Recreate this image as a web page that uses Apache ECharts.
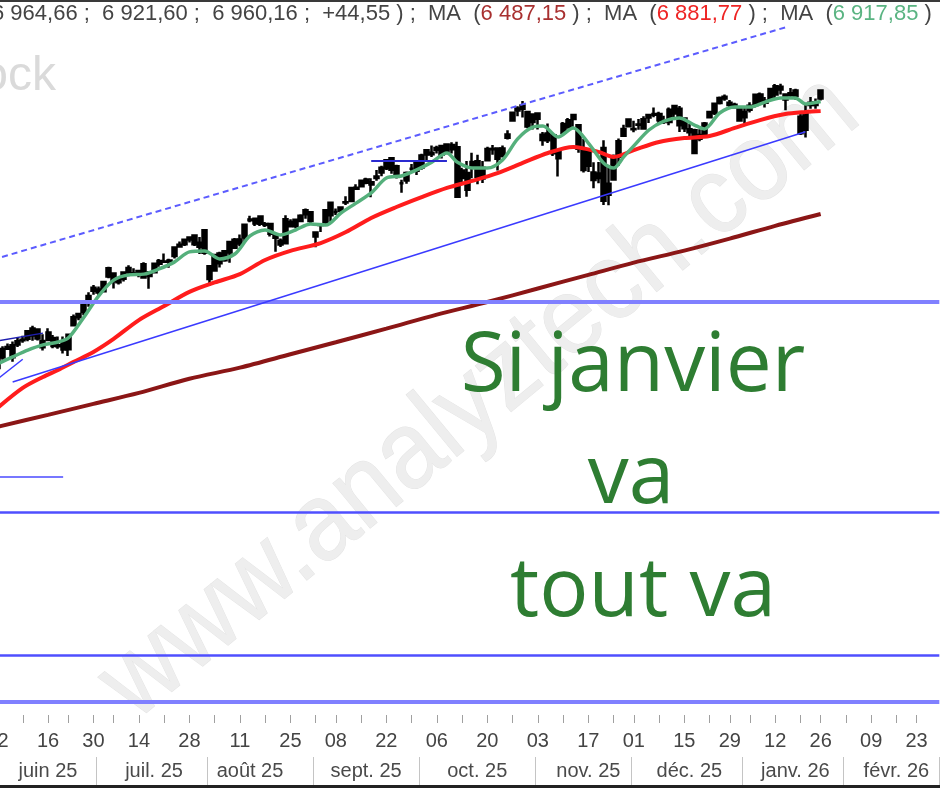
<!DOCTYPE html>
<html><head><meta charset="utf-8">
<script src="https://cdn.jsdelivr.net/npm/echarts@6/dist/echarts.min.js"></script>
<style>html,body{margin:0;padding:0;background:#fff;overflow:hidden}#c{width:940px;height:788px}</style>
</head><body><div id="c"></div>
<script>
// ---- daily candles: date, open, high, low, close ----
const ohlc = [
["2025-05-30",5903,5923,5843,5912],["2025-06-02",5897,5937,5861,5936],["2025-06-03",5938,5981,5929,5970],
["2025-06-04",5978,5991,5967,5971],["2025-06-05",5985,5999,5921,5939],["2025-06-06",5987,6016,5978,6000],
["2025-06-09",6004,6021,5994,6006],["2025-06-10",6009,6043,6000,6038],["2025-06-11",6049,6059,6002,6022],
["2025-06-12",6010,6045,6003,6045],["2025-06-13",6001,6027,5964,5977],["2025-06-16",6005,6050,6005,6033],
["2025-06-17",6012,6024,5973,5982],["2025-06-18",5985,6018,5971,5981],["2025-06-20",5999,6018,5953,5968],
["2025-06-23",5969,6026,5943,6025],["2025-06-24",6061,6102,6059,6092],["2025-06-25",6104,6109,6080,6092],
["2025-06-26",6112,6146,6099,6141],["2025-06-27",6151,6188,6132,6173],["2025-06-30",6193,6215,6178,6205],
["2025-07-01",6187,6210,6177,6198],["2025-07-02",6191,6227,6187,6227],["2025-07-03",6248,6285,6241,6279],
["2025-07-07",6259,6262,6202,6230],["2025-07-08",6240,6242,6217,6226],["2025-07-09",6239,6266,6229,6263],
["2025-07-10",6265,6291,6249,6280],["2025-07-11",6256,6279,6251,6260],["2025-07-14",6256,6273,6245,6269],
["2025-07-15",6295,6302,6241,6244],["2025-07-16",6250,6267,6201,6264],["2025-07-17",6264,6301,6262,6297],
["2025-07-18",6307,6315,6285,6297],["2025-07-21",6304,6336,6303,6305],["2025-07-22",6306,6316,6281,6309],
["2025-07-23",6326,6360,6317,6359],["2025-07-24",6369,6382,6360,6363],["2025-07-25",6371,6390,6365,6389],
["2025-07-28",6397,6402,6378,6390],["2025-07-29",6405,6409,6365,6371],["2025-07-30",6377,6399,6334,6362],
["2025-07-31",6425,6430,6331,6339],["2025-08-01",6287,6288,6212,6238],["2025-08-04",6271,6330,6271,6330],
["2025-08-05",6336,6343,6282,6299],["2025-08-06",6310,6349,6304,6345],["2025-08-07",6380,6385,6301,6340],
["2025-08-08",6358,6395,6355,6389],["2025-08-11",6390,6409,6364,6374],["2025-08-12",6397,6446,6383,6446],
["2025-08-13",6463,6481,6456,6466],["2025-08-14",6451,6474,6441,6469],["2025-08-15",6478,6481,6441,6450],
["2025-08-18",6445,6457,6437,6449],["2025-08-19",6449,6452,6401,6412],["2025-08-20",6407,6408,6343,6396],
["2025-08-21",6385,6393,6361,6370],["2025-08-22",6375,6482,6375,6467],["2025-08-25",6457,6467,6438,6440],
["2025-08-26",6441,6466,6433,6465],["2025-08-27",6460,6486,6458,6481],["2025-08-28",6486,6508,6469,6502],
["2025-08-29",6494,6494,6445,6460],["2025-09-02",6401,6417,6360,6416],["2025-09-03",6445,6453,6418,6448],
["2025-09-04",6456,6502,6444,6502],["2025-09-05",6530,6533,6458,6482],["2025-09-08",6495,6508,6483,6495],
["2025-09-09",6499,6513,6492,6512],["2025-09-10",6531,6555,6522,6532],["2025-09-11",6537,6592,6532,6587],
["2025-09-12",6588,6601,6579,6584],["2025-09-15",6594,6616,6593,6615],["2025-09-16",6619,6626,6601,6607],
["2025-09-17",6609,6624,6551,6600],["2025-09-18",6625,6656,6615,6631],["2025-09-19",6646,6672,6632,6664],
["2025-09-22",6662,6695,6656,6693],["2025-09-23",6701,6703,6641,6657],["2025-09-24",6670,6676,6623,6638],
["2025-09-25",6605,6618,6569,6605],["2025-09-26",6616,6650,6603,6644],["2025-09-29",6661,6679,6644,6661],
["2025-09-30",6653,6689,6637,6688],["2025-10-01",6665,6718,6657,6711],["2025-10-02",6731,6731,6693,6715],
["2025-10-03",6722,6750,6706,6716],["2025-10-06",6733,6749,6719,6740],["2025-10-07",6748,6752,6700,6714],
["2025-10-08",6724,6756,6720,6753],["2025-10-09",6752,6762,6719,6735],["2025-10-10",6743,6764,6551,6553],
["2025-10-13",6625,6664,6605,6654],["2025-10-14",6580,6690,6553,6644],["2025-10-15",6686,6722,6624,6671],
["2025-10-16",6689,6714,6601,6630],["2025-10-17",6623,6690,6606,6664],["2025-10-20",6693,6745,6690,6736],
["2025-10-21",6736,6752,6714,6735],["2025-10-22",6738,6739,6654,6699],["2025-10-23",6709,6750,6704,6738],
["2025-10-24",6779,6808,6773,6792],["2025-10-27",6845,6878,6845,6875],["2025-10-28",6884,6900,6862,6891],
["2025-10-29",6903,6920,6857,6890],["2025-10-30",6878,6880,6816,6822],["2025-10-31",6868,6869,6811,6840],
["2025-11-03",6872,6872,6811,6852],["2025-11-04",6791,6801,6749,6771],["2025-11-05",6770,6834,6759,6796],
["2025-11-06",6789,6797,6709,6720],["2025-11-07",6701,6731,6631,6729],["2025-11-10",6798,6840,6790,6832],
["2025-11-11",6820,6855,6814,6846],["2025-11-12",6866,6870,6821,6851],["2025-11-13",6827,6828,6722,6737],
["2025-11-14",6656,6775,6646,6734],["2025-11-17",6728,6740,6648,6672],["2025-11-18",6646,6685,6586,6617],
["2025-11-19",6625,6686,6605,6642],["2025-11-20",6740,6770,6522,6538],["2025-11-21",6561,6671,6521,6603],
["2025-11-24",6619,6715,6619,6705],["2025-11-25",6707,6776,6672,6766],["2025-11-26",6787,6829,6787,6813],
["2025-11-28",6823,6851,6823,6849],["2025-12-01",6812,6844,6800,6813],["2025-12-02",6830,6851,6810,6829],
["2025-12-03",6815,6862,6810,6850],["2025-12-04",6866,6868,6836,6857],["2025-12-05",6867,6895,6858,6870],
["2025-12-08",6870,6879,6835,6846],["2025-12-09",6840,6864,6832,6840],["2025-12-10",6840,6895,6827,6887],
["2025-12-11",6872,6904,6848,6901],["2025-12-12",6890,6901,6801,6827],["2025-12-15",6853,6856,6801,6816],
["2025-12-16",6812,6832,6776,6800],["2025-12-17",6808,6814,6720,6721],["2025-12-18",6790,6812,6766,6775],
["2025-12-19",6793,6840,6790,6834],["2025-12-22",6858,6880,6855,6878],["2025-12-23",6874,6910,6866,6910],
["2025-12-24",6912,6937,6907,6932],["2025-12-26",6936,6945,6921,6930],["2025-12-29",6913,6924,6890,6905],
["2025-12-30",6906,6913,6893,6896],["2025-12-31",6895,6900,6843,6845],["2026-01-02",6878,6893,6830,6858],
["2026-01-05",6887,6915,6876,6902],["2026-01-06",6905,6946,6895,6944],["2026-01-07",6945,6953,6910,6921],
["2026-01-08",6913,6935,6895,6921],["2026-01-09",6925,6970,6920,6966],["2026-01-12",6945,6985,6930,6977],
["2026-01-13",6975,6986,6945,6964],["2026-01-14",6945,6948,6885,6926],["2026-01-15",6950,6970,6933,6944],
["2026-01-16",6960,6967,6925,6940],["2026-01-20",6860,6870,6790,6797],["2026-01-21",6810,6910,6780,6876],
["2026-01-22",6905,6935,6890,6913],["2026-01-23",6905,6930,6890,6915.61],["2026-01-26",6930,6964.66,6921.60,6960.16]
];
// remaining (empty) trading days shown on the axis
const futureDates = ["2026-01-27","2026-01-28","2026-01-29","2026-01-30","2026-02-02","2026-02-03","2026-02-04",
"2026-02-05","2026-02-06","2026-02-09","2026-02-10","2026-02-11","2026-02-12","2026-02-13","2026-02-17",
"2026-02-18","2026-02-19","2026-02-20","2026-02-23","2026-02-24","2026-02-25","2026-02-26","2026-02-27"];

// moving averages (date, value)
const maShort = [["2025-06-02",5913],["2025-06-05",5940],["2025-06-10",5966],["2025-06-13",5986],["2025-06-18",5997],
["2025-06-23",6012],["2025-06-26",6089],["2025-07-01",6173],["2025-07-07",6234],["2025-07-10",6254],["2025-07-15",6257],
["2025-07-18",6277],["2025-07-23",6303],["2025-07-28",6342],["2025-07-31",6346],["2025-08-05",6315],["2025-08-08",6334],
["2025-08-13",6403],["2025-08-18",6426],["2025-08-21",6407],["2025-08-26",6426],["2025-08-29",6449],["2025-09-04",6445],
["2025-09-09",6491],["2025-09-12",6529],["2025-09-17",6568],["2025-09-22",6625],["2025-09-25",6633],["2025-09-30",6656],
["2025-10-03",6686],["2025-10-08",6721],["2025-10-10",6686],["2025-10-15",6663],["2025-10-20",6663],["2025-10-23",6694],
["2025-10-28",6775],["2025-10-31",6820],["2025-11-04",6824],["2025-11-07",6782],["2025-11-12",6817],["2025-11-17",6759],
["2025-11-20",6683],["2025-11-24",6663],["2025-11-26",6706],["2025-12-01",6748],["2025-12-04",6809],["2025-12-09",6843],
["2025-12-12",6855],["2025-12-17",6828],["2025-12-19",6813],["2025-12-24",6874],["2025-12-30",6897],["2026-01-05",6897],
["2026-01-08",6916],["2026-01-13",6932],["2026-01-16",6932],["2026-01-21",6909],["2026-01-26",6917.85]];
const maMid = [["2025-06-02",5744],["2025-06-09",5821],["2025-06-13",5863],["2025-06-18",5890],["2025-06-24",5920],
["2025-06-30",5959],["2025-07-07",6009],["2025-07-14",6081],["2025-07-21",6135],["2025-07-28",6189],["2025-08-04",6225],
["2025-08-11",6257],["2025-08-18",6311],["2025-08-25",6346],["2025-09-03",6376],["2025-09-10",6418],["2025-09-17",6472],
["2025-09-24",6514],["2025-10-01",6552],["2025-10-08",6587],["2025-10-15",6614],["2025-10-22",6644],["2025-10-29",6683],
["2025-11-05",6721],["2025-11-12",6744],["2025-11-19",6725],["2025-11-24",6706],["2025-12-01",6732],["2025-12-08",6763],
["2025-12-15",6778],["2025-12-22",6786],["2025-12-30",6817],["2026-01-07",6847],["2026-01-14",6870],["2026-01-21",6878],
["2026-01-26",6881.77]];
const maLong = [["2025-06-02",5672],["2025-06-16",5718],["2025-06-30",5760],["2025-07-14",5802],["2025-07-28",5856],
["2025-08-11",5899],["2025-08-25",5950],["2025-09-08",5996],["2025-09-22",6048],["2025-10-06",6102],["2025-10-20",6150],
["2025-11-03",6202],["2025-11-17",6254],["2025-12-01",6301],["2025-12-15",6347],["2025-12-29",6393],["2026-01-12",6442],
["2026-01-26",6487.15]];

// horizontal levels and trend lines [date1, value1, date2, value2]
const hLevels = [6150, 5346, 4798, 4618];
const trendLines = [
  ["2025-05-30",6312,"2026-01-14",7202],
  ["2025-06-05",5844,"2026-01-21",6802],
  ["2025-06-02",5855,"2025-06-09",5931],
  ["2025-06-02",6001,"2025-06-13",6031],
  ["2025-05-30",5480,"2025-06-20",5480],
  ["2025-09-17",6690,"2025-10-08",6690]
];

// axis labels
const weekTickDates = ["2025-06-02","2025-06-09","2025-06-16","2025-06-23","2025-06-30","2025-07-07","2025-07-14",
"2025-07-21","2025-07-28","2025-08-04","2025-08-11","2025-08-18","2025-08-25","2025-09-02","2025-09-08","2025-09-15",
"2025-09-22","2025-09-29","2025-10-06","2025-10-13","2025-10-20","2025-10-27","2025-11-03","2025-11-10","2025-11-17",
"2025-11-24","2025-12-01","2025-12-08","2025-12-15","2025-12-22","2025-12-29","2026-01-05","2026-01-12","2026-01-20",
"2026-01-26","2026-02-02","2026-02-09","2026-02-17","2026-02-23"];
const dayLabelDates = ["2025-06-02","2025-06-16","2025-06-30","2025-07-14","2025-07-28","2025-08-11","2025-08-25",
"2025-09-08","2025-09-22","2025-10-06","2025-10-20","2025-11-03","2025-11-17","2025-12-01","2025-12-15","2025-12-29",
"2026-01-12","2026-01-26","2026-02-09","2026-02-23"];
const dayLabels = ["02","16","30","14","28","11","25","08","22","06","20","03","17","01","15","29","12","26","09","23"];
const monthStartDates = ["2025-07-01","2025-08-01","2025-09-02","2025-10-01","2025-11-03","2025-12-01","2026-01-02","2026-02-02"];
const monthLabelDates = ["2025-06-16","2025-07-17","2025-08-13","2025-09-16","2025-10-16","2025-11-17","2025-12-16","2026-01-16","2026-02-17"];
const monthLabels = ["juin 25","juil. 25","août 25","sept. 25","oct. 25","nov. 25","déc. 25","janv. 26","févr. 26"];

// ---- build ----
const categories = ohlc.map(r => r[0]).concat(futureDates);
const candleData = ohlc.map(r => [r[1], r[4], r[3], r[2]]);
const weekSet = new Set(weekTickDates);
const dayMap = {}; dayLabelDates.forEach((d, i) => dayMap[d] = dayLabels[i]);
const mStartSet = new Set(monthStartDates);
const monthMap = {}; monthLabelDates.forEach((d, i) => monthMap[d] = monthLabels[i]);

const dayW = 5.05;
const gridLeft = 48 - 11.5 * dayW;

const hStyles = [
  {color:'#8080ff', width:4}, {color:'#4f4fff', width:2.5}, {color:'#4f4fff', width:2.5}, {color:'#8080ff', width:4}
];
const tStyles = [
  {color:'#5c5cff', width:2, type:[6,4]},
  {color:'#3a3aff', width:1.5, type:'solid'},
  {color:'#3a3aff', width:1.5, type:'solid'},
  {color:'#1f1fb0', width:1.5, type:'solid'},
  {color:'#4a4aff', width:1.5, type:'solid'},
  {color:'#2a2ad0', width:2, type:'solid'}
];
const markData = [];
hLevels.forEach((v, i) => markData.push({yAxis: v, lineStyle: Object.assign({type:'solid'}, hStyles[i])}));
trendLines.forEach((t, i) => markData.push([{coord:[t[0], t[1]], lineStyle: tStyles[i]}, {coord:[t[2], t[3]]}]));

const chart = echarts.init(document.getElementById('c'), null, {renderer:'canvas'});
const axisFont = '"Liberation Sans", Arial, sans-serif';
const hdrFont = '22px "Liberation Sans", Arial, sans-serif';
chart.setOption({
  animation: false,
  backgroundColor: '#ffffff',
  grid: {left: gridLeft, top: 0, width: categories.length * dayW, height: 703, containLabel: false, outerBoundsMode: 'none'},
  xAxis: [{
    type: 'category', data: categories, boundaryGap: true, position: 'bottom', offset: 12,
    axisLine: {show: false},
    axisTick: {show: true, length: 8, alignWithLabel: true, interval: (i, v) => weekSet.has(v), lineStyle: {color: '#a0a0a0', width: 1}},
    axisLabel: {show: true, interval: (i, v) => v in dayMap, formatter: v => dayMap[v] || '', margin: 26,
      verticalAlign: 'middle', fontSize: 20, fontFamily: axisFont, color: '#444'},
    splitLine: {show: false}
  }, {
    type: 'category', data: categories, boundaryGap: true, position: 'bottom', offset: 54,
    axisLine: {show: false},
    axisTick: {show: true, length: 29, alignWithLabel: false, interval: (i, v) => mStartSet.has(v), lineStyle: {color: '#c4c4c4', width: 1}},
    axisLabel: {show: true, interval: (i, v) => v in monthMap, formatter: v => monthMap[v] || '', margin: 14,
      verticalAlign: 'middle', fontSize: 20, fontFamily: axisFont, color: '#4a4a4a'},
    splitLine: {show: false}
  }],
  yAxis: {type: 'value', min: 4614.3, max: 7306.9, show: false, splitLine: {show: false}},
  series: [
    {type: 'candlestick', name: 'cours', data: candleData, barWidth: 4.5,
      itemStyle: {color: '#000', color0: '#000', borderColor: '#000', borderColor0: '#000', borderWidth: 2.5}},
    {type: 'line', name: 'MA long', data: maLong, symbol: 'none', smooth: 0.3, lineStyle: {color: '#8b1616', width: 4}},
    {type: 'line', name: 'MA mid', data: maMid, symbol: 'none', smooth: 0.3, lineStyle: {color: '#ff1c1c', width: 4}},
    {type: 'line', name: 'MA court', data: maShort, symbol: 'none', smooth: 0.3, lineStyle: {color: '#55b07c', width: 3.5}},
    {type: 'line', name: 'niveaux', data: [], symbol: 'none', z: 4,
      markLine: {silent: true, symbol: ['none','none'], label: {show: false}, animation: false, data: markData}}
  ],
  graphic: {elements: [
    {type: 'rect', shape: {x: 0, y: 0, width: 940, height: 2}, style: {fill: '#3a3a3a'}, z: 10},
    {type: 'rect', shape: {x: 0, y: 785, width: 940, height: 3}, style: {fill: '#222'}, z: 10},
    {type: 'text', x: -8, y: 14, z: 10, style: {
      text: '6 964,66 ;  6 921,60 ;  6 960,16 ;  +44,55 ) ;  MA  ({dr|6 487,15} ) ;  MA  ({r|6 881,77} ) ;  MA  ({g|6 917,85} )',
      font: hdrFont, fill: '#444',
      textAlign: 'left', align: 'left', textVerticalAlign: 'middle', verticalAlign: 'middle',
      rich: {
        dr: {fill: '#a83030', font: hdrFont},
        r: {fill: '#ee2424', font: hdrFont},
        g: {fill: '#5ab482', font: hdrFont}
      }}},
    {type: 'text', x: 56, y: 77, z: -2, style: {text: 'Stock', font: '48px "Liberation Sans", Arial, sans-serif',
      fill: '#dadada', textAlign: 'right', align: 'right', textVerticalAlign: 'middle', verticalAlign: 'middle'}},
    {type: 'text', x: 480, y: 398, rotation: 0.69, scaleX: 0.92, z: -2, style: {text: 'www.analyztech.com',
      font: '110px "Liberation Sans", Arial, sans-serif', fill: '#eeeeee', stroke: '#e4e4e4', lineWidth: 1,
      textAlign: 'center', align: 'center', textVerticalAlign: 'middle', verticalAlign: 'middle'}},
    {type: 'text', x: 633, y: 368, z: 20, style: {text: 'Si janvier', font: '82px "Open Sans", sans-serif', fill: '#2e7d32',
      textAlign: 'center', align: 'center', textVerticalAlign: 'middle', verticalAlign: 'middle'}},
    {type: 'text', x: 631, y: 480, z: 20, style: {text: 'va', font: '82px "Open Sans", sans-serif', fill: '#2e7d32',
      textAlign: 'center', align: 'center', textVerticalAlign: 'middle', verticalAlign: 'middle'}},
    {type: 'text', x: 643, y: 593, z: 20, style: {text: 'tout va', font: '82px "Open Sans", sans-serif', fill: '#2e7d32',
      textAlign: 'center', align: 'center', textVerticalAlign: 'middle', verticalAlign: 'middle'}}
  ]}
});
</script></body></html>
